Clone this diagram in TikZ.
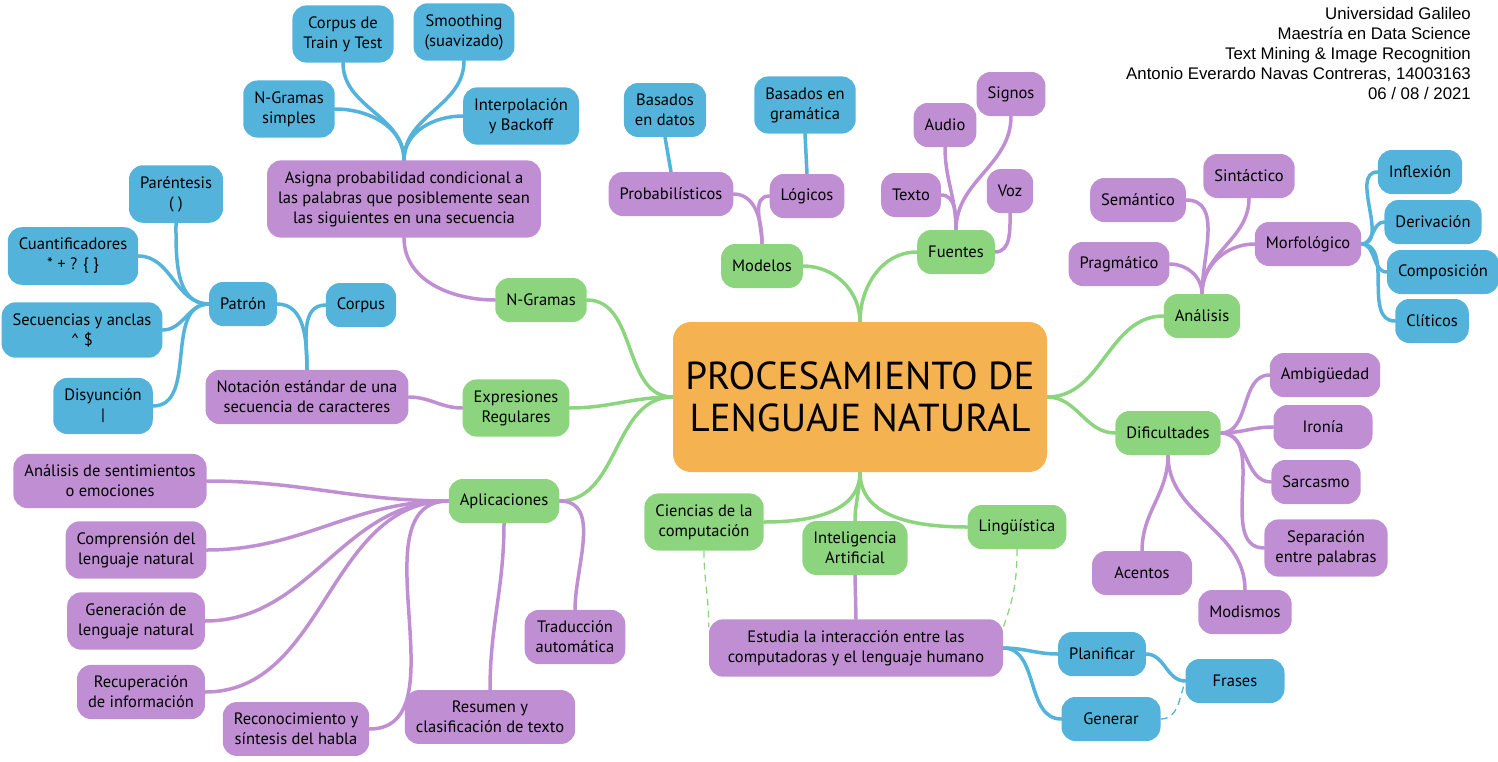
\documentclass[tikz,border=0pt]{standalone}
\usepackage{fontspec}
\setmainfont{PT Sans}
\newfontfamily\headfont{Liberation Sans}
\usetikzlibrary{positioning,backgrounds}

\definecolor{rootorange}{HTML}{F4B350}
\definecolor{leafgreen}{HTML}{8CD47E}
\definecolor{leafpurple}{HTML}{C08FD3}
\definecolor{leafblue}{HTML}{53B3DA}

\begin{document}
\begin{tikzpicture}[
    x=1pt, y=1pt,
    box/.style={rectangle, rounded corners=14pt, minimum height=44pt, inner xsep=11pt, inner ysep=11pt, align=center, font=\fontsize{16.5}{20}\selectfont},
    root/.style={rectangle, rounded corners=18pt, fill=rootorange, minimum width=374pt, minimum height=150pt, align=center, font=\fontsize{39}{42}\selectfont},
    gbox/.style={box, fill=leafgreen},
    pbox/.style={box, fill=leafpurple},
    bbox/.style={box, fill=leafblue},
    branch/.style={line width=3.5pt, line cap=round},
    gline/.style={branch, draw=leafgreen},
    pline/.style={branch, draw=leafpurple},
    bline/.style={branch, draw=leafblue},
    hint/.style={line width=1.3pt, dash pattern=on 7pt off 5pt},
    header/.style={align=right, inner sep=0pt, font=\headfont\fontsize{16.8}{20}\selectfont}
]
    \useasboundingbox (0,0) rectangle (1498,-761);

    % Centre
    \node[root] (nlp) at (860,-397) {PROCESAMIENTO DE\\LENGUAJE NATURAL};

    % First level
    \node[gbox] (ngramas) at (541,-300) {N-Gramas};
    \node[gbox] (regex) at (516,-408) {Expresiones\\Regulares};
    \node[gbox] (aplic) at (504,-501) {Aplicaciones};
    \node[gbox] (modelos) at (762,-266) {Modelos};
    \node[gbox] (fuentes) at (956,-252) {Fuentes};
    \node[gbox] (analisis) at (1202,-316) {Análisis};
    \node[gbox] (dific) at (1168,-433) {Dificultades};
    \node[gbox] (ciencias) at (704,-522) {Ciencias de la\\computación};
    \node[gbox] (ia) at (855,-548) {Inteligencia\\Artificial};
    \node[gbox] (ling) at (1017,-527) {Lingüística};

    % Second level
    \node[pbox] (asigna) at (404,-199) {Asigna probabilidad condicional a\\las palabras que posiblemente sean\\las siguientes en una secuencia};
    \node[pbox] (notacion) at (307,-397) {Notación estándar de una\\secuencia de caracteres};
    \node[pbox] (probab) at (671,-194) {Probabilísticos};
    \node[pbox] (logicos) at (807,-196) {Lógicos};
    \node[pbox] (texto) at (911,-195) {Texto};
    \node[pbox] (audio) at (945,-125) {Audio};
    \node[pbox] (signos) at (1011,-94) {Signos};
    \node[pbox] (voz) at (1010,-191) {Voz};
    \node[pbox] (semantico) at (1138,-200) {Semántico};
    \node[pbox] (sintactico) at (1249,-176) {Sintáctico};
    \node[pbox] (pragmatico) at (1119,-264) {Pragmático};
    \node[pbox] (morfo) at (1308,-244) {Morfológico};
    \node[pbox] (ambig) at (1325,-375) {Ambigüedad};
    \node[pbox, minimum width=99pt] (ironia) at (1323,-427) {Ironía};
    \node[pbox] (sarcasmo) at (1316,-482) {Sarcasmo};
    \node[pbox] (separacion) at (1326,-548) {Separación\\entre palabras};
    \node[pbox, minimum width=100pt] (acentos) at (1142,-573) {Acentos};
    \node[pbox] (modismos) at (1245,-612) {Modismos};
    \node[pbox, minimum width=294pt] (estudia) at (856,-648) {Estudia la interacción entre las\\computadoras y el lenguaje humano};
    \node[pbox] (sentim) at (110,-481) {Análisis de sentimientos\\o emociones};
    \node[pbox] (compren) at (136,-550) {Comprensión del\\lenguaje natural};
    \node[pbox] (generac) at (136,-621) {Generación de\\lenguaje natural};
    \node[pbox] (recuper) at (141,-692) {Recuperación\\de información};
    \node[pbox] (reconoc) at (296,-729) {Reconocimiento y\\síntesis del habla};
    \node[pbox] (resumen) at (490,-717) {Resumen y\\clasificación de texto};
    \node[pbox] (traduc) at (575,-637) {Traducción\\automática};

    % Third level
    \node[bbox] (corpustt) at (343,-34) {Corpus de\\Train y Test};
    \node[bbox] (smooth) at (464,-32) {Smoothing\\(suavizado)};
    \node[bbox] (ngsimples) at (289,-109) {N-Gramas\\simples};
    \node[bbox] (interp) at (521,-116) {Interpolación\\y Backoff};
    \node[bbox] (parent) at (176,-194) {Paréntesis\\( )};
    \node[bbox] (cuant) at (73,-256) {Cuantificadores\\* + ? \{ \}};
    \node[bbox] (secuen) at (82,-330) {Secuencias y anclas\\\textasciicircum{} \$};
    \node[bbox] (disyun) at (103,-406) {Disyunción\\\textbar};
    \node[bbox] (patron) at (243,-304) {Patrón};
    \node[bbox] (corpus) at (361,-305) {Corpus};
    \node[bbox] (bdatos) at (665,-110) {Basados\\en datos};
    \node[bbox] (bgram) at (805,-105) {Basados en\\gramática};
    \node[bbox] (inflex) at (1420,-172) {Inflexión};
    \node[bbox] (deriv) at (1433,-222) {Derivación};
    \node[bbox] (compos) at (1443,-272) {Composición};
    \node[bbox] (cliticos) at (1432,-321) {Clíticos};
    \node[bbox] (planif) at (1102,-654) {Planificar};
    \node[bbox, minimum width=99pt] (frases) at (1235,-681) {Frases};
    \node[bbox, minimum width=99pt] (generar) at (1111,-719) {Generar};

    % Header
    \node[header, anchor=north east] (autor) at (1471,-7) {Universidad Galileo\\Maestría en Data Science\\Text Mining \& Image Recognition\\Antonio Everardo Navas Contreras, 14003163\\06 / 08 / 2021};

    \begin{scope}[on background layer]
        % from the centre
        \draw[gline] (nlp.west) to[out=180,in=0] (ngramas.east);
        \draw[gline] (nlp.west) to[out=180,in=0] (regex.east);
        \draw[gline] (nlp.west) to[out=180,in=0] (aplic.east);
        \draw[gline] (nlp.north) to[out=90,in=0] (modelos.east);
        \draw[gline] (nlp.north) to[out=90,in=180] (fuentes.west);
        \draw[gline] (nlp.east) to[out=0,in=180] (analisis.west);
        \draw[gline] (nlp.east) to[out=0,in=180] (dific.west);
        \draw[gline] (nlp.south) to[out=-90,in=0] (ciencias.east);
        \draw[gline] (nlp.south) to[out=-90,in=90] (ia.north);
        \draw[gline] (nlp.south) to[out=-90,in=180] (ling.west);

        % purple branches
        \draw[pline] (ngramas.west) to[out=180,in=-90] (asigna.south);
        \draw[pline] (regex.west) to[out=180,in=0] (notacion.east);
        \foreach \leaf in {sentim,compren,generac,recuper,reconoc}
            \draw[pline] (aplic.west) to[out=180,in=0] (\leaf.east);
        \draw[pline] (aplic.south) to[out=-90,in=90] (resumen.north);
        \draw[pline] (aplic.east) to[out=0,in=90] (traduc.north);
        \draw[pline] (modelos.north) to[out=90,in=0] (probab.east);
        \draw[pline] (modelos.north) to[out=90,in=180] (logicos.west);
        \draw[pline] (fuentes.north) to[out=90,in=0] (texto.east);
        \draw[pline] (fuentes.north) to[out=90,in=-90] (audio.south);
        \draw[pline] (fuentes.north) to[out=90,in=-90] (signos.south);
        \draw[pline] (fuentes.east) to[out=0,in=-90] (voz.south);
        \draw[pline] (analisis.north) to[out=90,in=0] (semantico.east);
        \draw[pline] (analisis.north) to[out=90,in=-90] (sintactico.south);
        \draw[pline] (analisis.north) to[out=90,in=0] (pragmatico.east);
        \draw[pline] (analisis.north) to[out=90,in=180] (morfo.west);
        \foreach \leaf in {ambig,ironia,sarcasmo,separacion}
            \draw[pline] (dific.east) to[out=0,in=180] (\leaf.west);
        \draw[pline] (dific.south) to[out=-90,in=90] (acentos.north);
        \draw[pline] (dific.south) to[out=-90,in=90] (modismos.north);
        \draw[pline] (ia.south) -- (estudia.north);

        % blue branches
        \draw[bline] (asigna.north) to[out=90,in=-90] (corpustt.south);
        \draw[bline] (asigna.north) to[out=90,in=-90] (smooth.south);
        \draw[bline] (asigna.north) to[out=90,in=0] (ngsimples.east);
        \draw[bline] (asigna.north) to[out=90,in=180] (interp.west);
        \draw[bline] (notacion.north) to[out=90,in=0] (patron.east);
        \draw[bline] (notacion.north) to[out=90,in=180] (corpus.west);
        \draw[bline] (patron.west) to[out=180,in=-90] (parent.south);
        \foreach \leaf in {cuant,secuen,disyun}
            \draw[bline] (patron.west) to[out=180,in=0] (\leaf.east);
        \draw[bline] (probab.north) -- (bdatos.south);
        \draw[bline] (logicos.north) -- (bgram.south);
        \foreach \leaf in {inflex,deriv,compos,cliticos}
            \draw[bline] (morfo.east) to[out=0,in=180] (\leaf.west);
        \draw[bline] (estudia.east) to[out=0,in=180] (planif.west);
        \draw[bline] (estudia.east) to[out=0,in=180] (generar.west);
        \draw[bline] (planif.east) to[out=0,in=180] (frases.west);

        % dashed hints
        \draw[hint, leafgreen] (ciencias.south) to[out=-90,in=90] (estudia.172);
        \draw[hint, leafgreen] (ling.south) to[out=-90,in=70] (estudia.8);
        \draw[hint, leafblue] (generar.east) to[out=0,in=-110] (frases.west);
    \end{scope}
\end{tikzpicture}
\end{document}
